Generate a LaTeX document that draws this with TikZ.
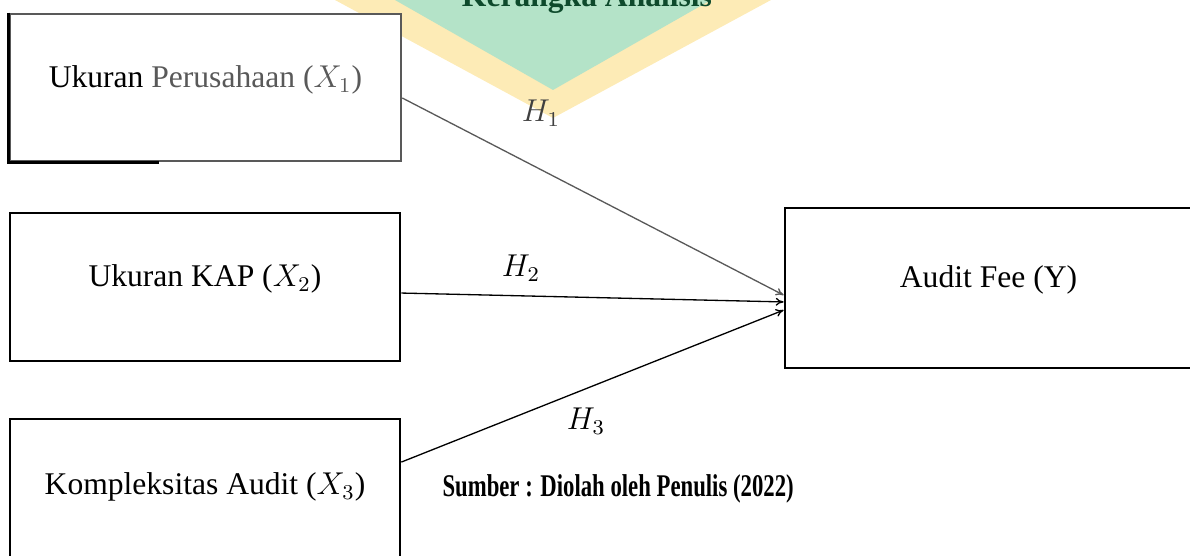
\documentclass[tikz,border=0pt]{standalone}
\usepackage{fontspec}
\setmainfont{Liberation Serif}
\usetikzlibrary{arrows.meta}
\definecolor{wmyellow}{HTML}{FDEBB6}
\definecolor{wmgreen}{HTML}{B4E3C8}
\definecolor{titlegreen}{HTML}{0E4A2C}
\tikzset{
  varbox/.style={draw,line width=1pt,fill=white,text height=0.7em,text depth=0.7em},
  link/.style={-{To[length=3pt,width=3pt]},line width=0.5pt},
}
\begin{document}
\begin{tikzpicture}[x=0.38pt,y=-0.38pt,font=\fontsize{12pt}{14pt}\selectfont]
\useasboundingbox (0,0) rectangle (1190,556);
\clip (0,0) rectangle (1190,556);
% watermark behind the title
\fill[wmyellow] (335,0) -- (771,0) -- (553,118) -- cycle;
\fill[wmgreen] (395,0) -- (711,0) -- (553,90) -- cycle;
\node[anchor=base,font=\fontsize{12pt}{14pt}\selectfont\bfseries,text=titlegreen] (title) at (587,7) {Kerangka Analisis};
% variables
\node[varbox,draw=black!65,minimum width=148.6pt,minimum height=55.9pt] (x1) at (205.5,87.5) {Ukuran \textcolor{black!65}{Perusahaan ($X_1$)}};
\draw[line width=1pt] (x1.north west) -- (x1.south west) -- ([xshift=57pt]x1.south west);
\node[varbox,minimum width=148.2pt,minimum height=56.2pt] (x2) at (205,287) {Ukuran KAP ($X_2$)};
\node[varbox,minimum width=148.2pt,minimum height=57.8pt] (x3) at (205,495) {Kompleksitas Audit ($X_3$)};
\node[varbox,minimum width=154.7pt,minimum height=60.8pt] (fee) at (988.5,288) {Audit Fee (Y)};
% hypotheses
\draw[link,black!65] ([yshift=-4pt]x1.east) -- ([yshift=-2.7pt]fee.west);
\draw[link] ([yshift=-2.3pt]x2.east) -- ([yshift=-5.3pt]fee.west);
\draw[link] ([yshift=12.5pt]x3.east) -- ([yshift=-8.4pt]fee.west);
\node[text=black!75] (h1) at (541,113) {$H_1$};
\node (h2) at (521,268) {$H_2$};
\node (h3) at (586,421) {$H_3$};
\node[anchor=base west,inner sep=0pt,font=\fontsize{12pt}{14pt}\selectfont\bfseries] (src) at (442,497) {\scalebox{0.72}[1]{Sumber : Diolah oleh Penulis (2022)}};
\end{tikzpicture}
\end{document}
